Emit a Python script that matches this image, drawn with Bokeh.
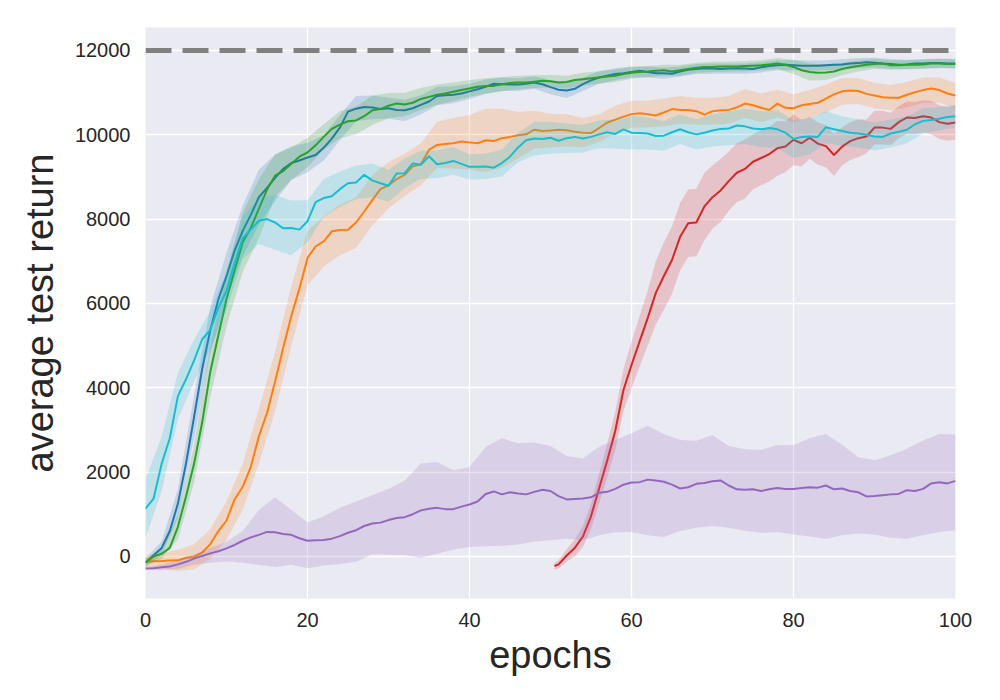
import numpy as np
from bokeh.plotting import figure
from bokeh.models import Range1d, FixedTicker, Span
from bokeh.embed import file_html
from bokeh.resources import INLINE

epochs = list(range(101))
band_epochs = epochs[::2]

cyan_mean = [1130, 1370, 2200, 2800, 3800, 4200, 4650, 5150, 5370, 5900,
             6300, 6950, 7550, 7750, 7960, 8000, 7920, 7780, 7790, 7750,
             7950, 8400, 8500, 8540, 8710, 8850, 8870, 9050, 8920, 8850,
             8790, 9080, 9090, 9320, 9290, 9490, 9300, 9330, 9380, 9310,
             9240, 9240, 9250, 9220, 9330, 9480, 9700, 9870, 9910, 9900,
             9930, 9860, 9920, 9950, 9910, 9950, 10010, 10060, 10020, 10130,
             10050, 10040, 10030, 9970, 9980, 10060, 10130, 10060, 10010, 10050,
             10100, 10140, 10150, 10220, 10200, 10150, 10130, 10160, 10130, 10050,
             9900, 9950, 9960, 9950, 10180, 10130, 10090, 10050, 10030, 10000,
             9960, 9950, 10030, 10070, 10120, 10250, 10330, 10350, 10380, 10420,
             10440]
cyan_spread = [700, 650, 550, 500, 450, 450, 500, 550, 650, 650,
               500, 450, 420, 400, 400, 380, 350, 330, 330, 330,
               300, 300, 320, 350, 400, 380, 350, 330, 330, 350,
               400, 380, 350, 350, 360, 380, 400, 420, 420, 450,
               450, 420, 380, 350, 330, 330, 330, 320, 300, 280,
               270]

blue_mean = [-150, 25, 200, 600, 1250, 2200, 3310, 4450, 5370, 6100,
             6650, 7250, 7720, 8100, 8520, 8740, 8980, 9190, 9330, 9390,
             9460, 9520, 9690, 9910, 10170, 10550, 10620, 10660, 10650, 10610,
             10630, 10590, 10580, 10630, 10710, 10790, 10920, 10940, 10950, 10980,
             11030, 11080, 11140, 11210, 11200, 11190, 11190, 11210, 11240, 11200,
             11130, 11070, 11050, 11090, 11200, 11290, 11360, 11400, 11440, 11460,
             11490, 11520, 11490, 11460, 11460, 11450, 11500, 11540, 11560, 11580,
             11570, 11560, 11570, 11580, 11570, 11560, 11600, 11630, 11650, 11660,
             11650, 11640, 11640, 11640, 11650, 11660, 11670, 11690, 11700, 11720,
             11710, 11690, 11680, 11660, 11670, 11690, 11690, 11700, 11700, 11690,
             11690]
blue_spread = [100, 150, 350, 500, 550, 550, 600, 650, 550, 400,
               350, 300, 300, 300, 280, 250, 250, 230, 220, 200,
               180, 170, 160, 150, 150, 170, 180, 160, 150, 140,
               130, 130, 130, 120, 120, 120, 120, 120, 120, 120,
               120, 120, 120, 120, 120, 115, 115, 110, 110, 110,
               110]

green_mean = [-150, 0, 60, 200, 700, 1420, 2200, 3180, 4380, 5250,
              6100, 6780, 7450, 7790, 8250, 8700, 9030, 9140, 9310, 9480,
              9580, 9750, 9950, 10140, 10240, 10320, 10340, 10440, 10580, 10610,
              10690, 10740, 10720, 10760, 10850, 10900, 10950, 10980, 11020, 11060,
              11100, 11140, 11160, 11160, 11200, 11230, 11240, 11240, 11260, 11280,
              11270, 11240, 11250, 11300, 11320, 11340, 11360, 11380, 11400, 11440,
              11470, 11490, 11500, 11520, 11530, 11500, 11530, 11560, 11590, 11610,
              11610, 11620, 11620, 11620, 11630, 11640, 11650, 11670, 11690, 11660,
              11610, 11530, 11490, 11470, 11480, 11500, 11560, 11600, 11630, 11660,
              11680, 11690, 11650, 11650, 11660, 11660, 11670, 11690, 11690, 11680,
              11680]
green_spread = [80, 120, 300, 450, 600, 650, 700, 700, 500, 380,
                350, 300, 320, 330, 350, 300, 280, 260, 240, 220,
                200, 180, 170, 160, 150, 150, 150, 150, 150, 150,
                140, 130, 130, 130, 120, 120, 120, 120, 120, 130,
                170, 200, 180, 150, 130, 120, 110, 110, 110, 110,
                110]

orange_mean = [-130, -115, -110, -100, -95, -35, -15, 90, 290, 600,
               850, 1350, 1650, 2120, 2850, 3400, 4150, 4950, 5700, 6350,
               7080, 7350, 7470, 7710, 7740, 7750, 7920, 8180, 8450, 8710,
               8800, 8950, 9050, 9250, 9300, 9640, 9760, 9780, 9800, 9840,
               9820, 9800, 9870, 9850, 9920, 9950, 9990, 10010, 10120, 10090,
               10100, 10120, 10110, 10070, 10050, 10040, 10160, 10290, 10360, 10430,
               10490, 10510, 10490, 10460, 10530, 10610, 10590, 10590, 10560, 10480,
               10560, 10580, 10590, 10650, 10740, 10700, 10640, 10590, 10740, 10640,
               10630, 10700, 10730, 10760, 10860, 10960, 11030, 11050, 11040, 10970,
               10930, 10890, 10880, 10880, 10950, 11010, 11060, 11100, 11060, 10980,
               10930]
orange_spread = [150, 180, 250, 300, 350, 450, 550, 650, 700, 700,
                 650, 600, 600, 600, 600, 550, 500, 500, 550, 600,
                 650, 750, 700, 550, 450, 400, 380, 350, 330, 330,
                 320, 320, 330, 330, 320, 320, 330, 340, 340, 330,
                 330, 330, 330, 320, 310, 300, 300, 300, 300, 300,
                 300]

red_epochs = [50.5] + list(range(51, 101))
red_mean = [-230, -190, 20, 200, 470, 950, 1610, 2270, 2980, 3940,
            4540, 5100, 5650, 6250, 6650, 7030, 7580, 7900, 7920, 8300,
            8520, 8680, 8900, 9100, 9190, 9360, 9450, 9540, 9680, 9720,
            9880, 9800, 9930, 9790, 9730, 9520, 9720, 9850, 9920, 9960,
            10170, 10170, 10140, 10300, 10410, 10400, 10440, 10410, 10300, 10260,
            10290]
red_spread = [80, 100, 150, 200, 250, 300, 350, 400, 450, 500,
              550, 600, 650, 750, 800, 800, 800, 800, 800, 800,
              750, 750, 700, 700, 700, 650, 650, 650, 650, 600,
              600, 550, 500, 500, 500, 500, 450, 450, 450, 400,
              400, 400, 380, 380, 380, 380, 380, 400, 400, 400,
              400]

purple_mean = [-290, -280, -260, -240, -190, -130, -55, 10, 70, 120,
               190, 270, 370, 450, 510, 580, 570, 530, 510, 430,
               370, 380, 390, 420, 480, 560, 620, 720, 780, 800,
               860, 910, 930, 1000, 1090, 1130, 1150, 1120, 1120, 1180,
               1230, 1300, 1480, 1540, 1470, 1520, 1490, 1470, 1530, 1580,
               1550, 1430, 1350, 1360, 1370, 1400, 1510, 1530, 1600, 1700,
               1750, 1760, 1820, 1800, 1770, 1700, 1610, 1640, 1720, 1740,
               1780, 1800, 1680, 1590, 1580, 1590, 1550, 1590, 1620, 1600,
               1600, 1620, 1640, 1630, 1680, 1590, 1610, 1550, 1520, 1420,
               1430, 1450, 1470, 1480, 1570, 1550, 1600, 1730, 1760, 1730,
               1790]
purple_upper = [-250, -200, -100, 50, 200, 350, 600, 1100, 1400, 1100,
                800, 950, 1150, 1300, 1450, 1600, 1800, 2200, 2240, 2040,
                2120, 2600, 2800, 2680, 2700, 2620, 2380, 2320, 2600, 2760,
                2920, 3100, 2900, 2760, 2740, 2880, 2620, 2540, 2520, 2640,
                2640, 2800, 2900, 2650, 2350, 2280, 2400, 2550, 2750, 2900,
                2890]
purple_lower = [-320, -330, -300, -200, -150, -120, -150, -200, -250, -200,
                -280, -220, -180, -130, 50, 40, 30, -40, 60, 160,
                220, 240, 250, 280, 350, 380, 420, 380, 500, 570,
                580, 500, 460, 600, 680, 720, 680, 610, 560, 580,
                520, 470, 420, 500, 540, 520, 440, 420, 500, 580,
                620]

target_return = 12000
x_ticks = [0, 20, 40, 60, 80, 100]
y_ticks = [0, 2000, 4000, 6000, 8000, 10000, 12000]

colors = {
    "blue": "#1f77b4",
    "orange": "#ff7f0e",
    "green": "#2ca02c",
    "red": "#d62728",
    "purple": "#9467bd",
    "cyan": "#17becf",
}

p = figure(width=990, height=692, output_backend="svg", toolbar_location=None,
           x_range=Range1d(0, 100), y_range=Range1d(-1000, 12545),
           min_border_left=145, min_border_right=35, min_border_top=27,
           min_border_bottom=94)
p.background_fill_color = "#eaeaf2"
p.border_fill_color = "white"
p.outline_line_color = None

for ax in (p.xaxis, p.yaxis):
    ax.axis_line_color = None
    ax.major_tick_line_color = None
    ax.minor_tick_line_color = None
    ax.major_label_text_font = "Liberation Sans"
    ax.major_label_text_font_size = "20px"
    ax.major_label_text_color = "#262626"
    ax.axis_label_text_font = "Liberation Sans"
    ax.axis_label_text_font_size = "38px"
    ax.axis_label_text_font_style = "normal"
    ax.axis_label_text_color = "#262626"

p.xaxis.ticker = FixedTicker(ticks=x_ticks)
p.yaxis.ticker = FixedTicker(ticks=y_ticks)
p.xaxis.axis_label = "epochs"
p.yaxis.axis_label = "average test return"
p.xaxis.major_label_standoff = 8
p.yaxis.major_label_standoff = 9
p.xaxis.axis_label_standoff = 4
p.yaxis.axis_label_standoff = 11

p.xgrid.grid_line_color = "white"
p.ygrid.grid_line_color = "white"
p.xgrid.grid_line_width = 1.3
p.ygrid.grid_line_width = 1.3


def band_sym(x, mean, spread, step):
    xs = np.array(x)[::step]
    m = np.array(mean, dtype=float)[::step]
    s = np.array(spread, dtype=float)
    return xs, m - s, m + s


series = [
    ("blue", blue_mean, blue_spread),
    ("orange", orange_mean, orange_spread),
    ("green", green_mean, green_spread),
]
for name, mean, spread in series:
    bx, lo, hi = band_sym(epochs, mean, spread, 2)
    p.varea(x=bx, y1=lo, y2=hi, fill_color=colors[name], fill_alpha=0.2)
    p.line(epochs, mean, line_color=colors[name], line_width=2)

rx, rlo, rhi = band_sym(red_epochs, red_mean, red_spread, 1)
p.varea(x=rx, y1=rlo, y2=rhi, fill_color=colors["red"], fill_alpha=0.2)
p.line(red_epochs, red_mean, line_color=colors["red"], line_width=2)

p.varea(x=band_epochs, y1=purple_lower, y2=purple_upper,
        fill_color=colors["purple"], fill_alpha=0.2)
p.line(epochs, purple_mean, line_color=colors["purple"], line_width=2)

cx, clo, chi = band_sym(epochs, cyan_mean, cyan_spread, 2)
p.varea(x=cx, y1=clo, y2=chi, fill_color=colors["cyan"], fill_alpha=0.2)
p.line(epochs, cyan_mean, line_color=colors["cyan"], line_width=2)

p.add_layout(Span(location=target_return, dimension="width",
                  line_color="#808080", line_width=5, line_dash="26 11"))

open("out.html", "w").write(file_html(p, INLINE))
